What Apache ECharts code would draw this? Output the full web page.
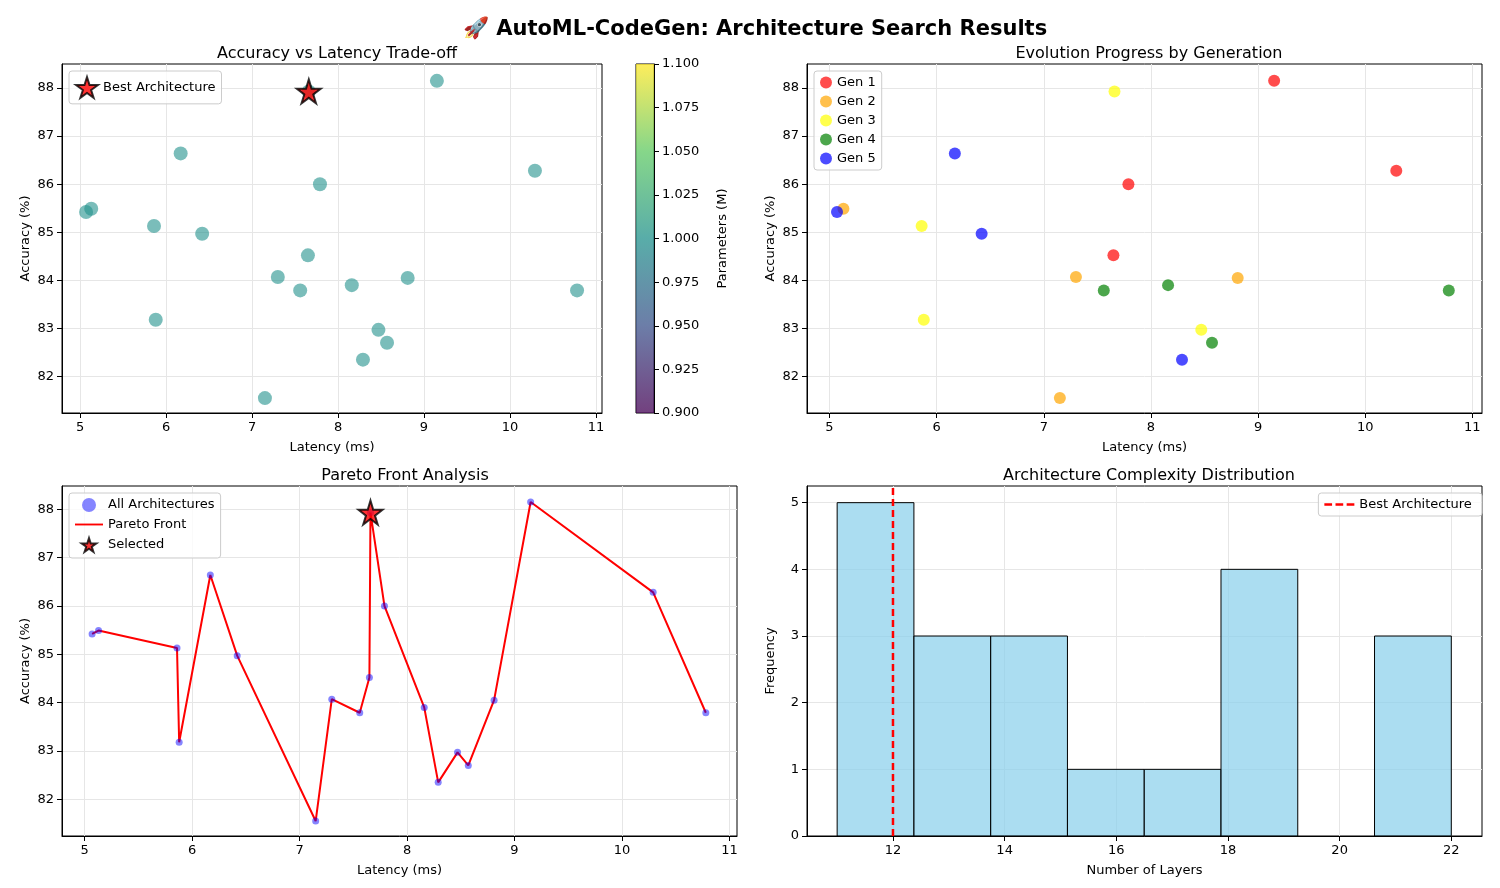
<!DOCTYPE html>
<html lang="en">
  <head>
    <meta charset="UTF-8" />
    <title>AutoML-CodeGen</title>
    <script src="https://cdn.jsdelivr.net/npm/echarts@6/dist/echarts.min.js"></script>
    <style>
      body { margin: 0; background: #fff; }
      #main { width: 1500px; height: 888px; }
    </style>
  </head>
  <body>
    <div id="main"></div>
    <script>
      // architectures: latency (ms), accuracy (%), generation
      var latency = [5.07, 5.13, 5.86, 5.88, 6.17, 6.42, 7.15, 7.30, 7.56, 7.65, 7.66, 7.79, 8.16, 8.29, 8.47, 8.57, 8.81, 9.15, 10.29, 10.78];
      var accuracy = [85.42, 85.49, 85.13, 83.18, 86.64, 84.97, 81.55, 84.07, 83.79, 84.52, 87.93, 86.0, 83.9, 82.35, 82.97, 82.7, 84.05, 88.15, 86.28, 83.79];
      var generation = [5, 2, 3, 3, 5, 5, 2, 2, 4, 1, 3, 1, 4, 5, 3, 4, 2, 1, 1, 4];
      var bestIndex = 10;
      var layerBins = [11, 12.375, 13.75, 15.125, 16.5, 17.875, 19.25, 20.625, 22];
      var layerCounts = [5, 3, 3, 1, 1, 4, 0, 3];
      var bestLayers = 12;
      var latencyTicks = [5, 6, 7, 8, 9, 10, 11];
      var accuracyTicks = [82, 83, 84, 85, 86, 87, 88];
      var layerTicks = [12, 14, 16, 18, 20, 22];
      var genColors = ["#ff0000", "#ffa500", "#ffff00", "#008000", "#0000ff"];

      var star = "path://M50,0 L61,35 L98,35 L68,57 L79,91 L50,70 L21,91 L32,57 L2,35 L39,35 Z";
      var lineIcon = "path://M0,4 L30,4 L30,6 L0,6 Z";
      var dashIcon = "path://M0,4 L9,4 L9,7 L0,7 Z M13,4 L22,4 L22,7 L13,7 Z M26,4 L35,4 L35,7 L26,7 Z";
      var font = "DejaVu Sans";
      var points = latency.map(function (x, i) { return [x, accuracy[i]]; });
      var best = [points[bestIndex]];

      var myChart = echarts.init(document.getElementById("main"));

      function axisBase(idx, min, max, ticks, name) {
        return {
          type: "value", gridIndex: idx, min: min, max: max,
          name: name, nameLocation: "middle",
          nameTextStyle: { color: "#000", fontSize: 13, fontFamily: font },
          axisLine: { show: true, onZero: false, lineStyle: { color: "#000" } },
          axisTick: { show: true, customValues: ticks, lineStyle: { color: "#000" } },
          axisLabel: { color: "#000", fontSize: 13, fontFamily: font, customValues: ticks },
          splitLine: { show: true, lineStyle: { color: "#e6e6e6" } },
        };
      }
      function xAx(idx, min, max, ticks, name) {
        var a = axisBase(idx, min, max, ticks, name);
        a.nameGap = 28;
        return a;
      }
      function yAx(idx, min, max, ticks, name) {
        var a = axisBase(idx, min, max, ticks, name);
        a.nameGap = 30;
        a.nameRotate = 90;
        return a;
      }
      function titleAt(text, cx, top) {
        return { text: text, left: cx, top: top, textAlign: "center",
          textStyle: { fontSize: 16, fontWeight: "normal", color: "#000", fontFamily: font } };
      }
      var legendBase = {
        orient: "vertical", backgroundColor: "rgba(255,255,255,0.8)", borderColor: "#ccc",
        borderWidth: 1, borderRadius: 3, padding: [5, 6], itemGap: 6,
        textStyle: { fontSize: 13, color: "#000", fontFamily: font },
      };
      var gridBox = { show: true, borderColor: "#000", borderWidth: 1, backgroundColor: "transparent" };

      var option = {
        backgroundColor: "#fff",
        animation: false,
        title: [
          { text: "🚀 AutoML-CodeGen: Architecture Search Results", left: 750, top: 14, textAlign: "center",
            textStyle: { fontSize: 21, fontWeight: "bold", color: "#000", fontFamily: font } },
          titleAt("Accuracy vs Latency Trade-off", 332, 41),
          titleAt("Evolution Progress by Generation", 1144, 41),
          titleAt("Pareto Front Analysis", 400, 463),
          titleAt("Architecture Complexity Distribution", 1144, 463),
        ],
        grid: [
          Object.assign({ left: 62, top: 64, width: 540, height: 349 }, gridBox),
          Object.assign({ left: 807, top: 64, width: 675, height: 349 }, gridBox),
          Object.assign({ left: 62, top: 486, width: 675, height: 350 }, gridBox),
          Object.assign({ left: 807, top: 486, width: 675, height: 350 }, gridBox),
          Object.assign({ left: 636, top: 64, width: 18, height: 349 }, gridBox),
        ],
        xAxis: [
          xAx(0, 4.79, 11.07, latencyTicks, "Latency (ms)"),
          xAx(1, 4.79, 11.09, latencyTicks, "Latency (ms)"),
          xAx(2, 4.79, 11.07, latencyTicks, "Latency (ms)"),
          xAx(3, 10.46, 22.55, layerTicks, "Number of Layers"),
          { type: "category", gridIndex: 4, data: ["c"], show: false },
        ],
        yAxis: [
          yAx(0, 81.24, 88.5, accuracyTicks, "Accuracy (%)"),
          yAx(1, 81.24, 88.5, accuracyTicks, "Accuracy (%)"),
          yAx(2, 81.24, 88.48, accuracyTicks, "Accuracy (%)"),
          yAx(3, 0, 5.25, [0, 1, 2, 3, 4, 5], "Frequency"),
          {
            type: "value", gridIndex: 4, min: 0.9, max: 1.1, interval: 0.025, position: "right",
            name: "Parameters (M)", nameLocation: "middle", nameGap: 62, nameRotate: 90,
            nameTextStyle: { color: "#000", fontSize: 13, fontFamily: font },
            axisLine: { show: true, lineStyle: { color: "#000" } },
            axisTick: { show: true, lineStyle: { color: "#000" } },
            axisLabel: { color: "#000", fontSize: 13, fontFamily: font,
              formatter: function (v) { return v.toFixed(3); } },
            splitLine: { show: false },
          },
        ],
        legend: [
          Object.assign({}, legendBase, { left: 69, top: 71, data: [{ name: "Best Architecture", icon: star }], itemWidth: 22, itemHeight: 22 }),
          Object.assign({}, legendBase, { left: 814, top: 71, itemWidth: 12, itemHeight: 12,
            data: ["Gen 1", "Gen 2", "Gen 3", "Gen 4", "Gen 5"] }),
          Object.assign({}, legendBase, { left: 69, top: 493, itemWidth: 28, itemHeight: 14,
            data: [{ name: "All Architectures", icon: "circle" }, { name: "Pareto Front", icon: lineIcon }, { name: "Selected", icon: star }] }),
          Object.assign({}, legendBase, { right: 18, top: 493, itemWidth: 30, itemHeight: 10,
            data: [{ name: "Best Architecture ", icon: dashIcon }] }),
        ],
        series: [],
      };

      // top-left: accuracy vs latency, all same parameter value (viridis middle)
      option.series.push({
        type: "scatter", xAxisIndex: 0, yAxisIndex: 0, data: points, symbolSize: 14,
        itemStyle: { color: "rgba(33,145,140,0.75)" },
      });
      option.series.push({
        name: "Best Architecture", type: "scatter", xAxisIndex: 0, yAxisIndex: 0, data: best,
        symbol: star, symbolSize: 24, itemStyle: { color: "#ff0000", borderColor: "#000", borderWidth: 2 }, z: 5,
      });
      // colorbar
      option.series.push({
        type: "bar", xAxisIndex: 4, yAxisIndex: 4, data: [1.1], barWidth: "100%", silent: true,
        itemStyle: { color: new echarts.graphic.LinearGradient(0, 1, 0, 0, [
          { offset: 0, color: "rgba(68,1,84,0.75)" },
          { offset: 0.25, color: "rgba(59,82,139,0.75)" },
          { offset: 0.5, color: "rgba(33,145,140,0.75)" },
          { offset: 0.75, color: "rgba(94,201,98,0.75)" },
          { offset: 1, color: "rgba(253,231,37,0.75)" },
        ]) },
      });

      // top-right: by generation
      for (var g = 1; g <= 5; g++) {
        option.series.push({
          name: "Gen " + g, type: "scatter", xAxisIndex: 1, yAxisIndex: 1, symbolSize: 12,
          itemStyle: { color: genColors[g - 1], opacity: 0.7 },
          data: points.filter(function (p, i) { return generation[i] === g; }),
        });
      }

      // bottom-left: pareto
      option.series.push({
        name: "All Architectures", type: "scatter", xAxisIndex: 2, yAxisIndex: 2, data: points, symbolSize: 7,
        itemStyle: { color: "rgba(0,0,255,0.6)" }, z: 3,
      });
      option.series.push({
        name: "Pareto Front", type: "line", xAxisIndex: 2, yAxisIndex: 2, data: points, showSymbol: false,
        symbol: "none", lineStyle: { color: "#ff0000", width: 2 }, itemStyle: { color: "#ff0000" }, z: 2,
      });
      option.series.push({
        name: "Selected", type: "scatter", xAxisIndex: 2, yAxisIndex: 2, data: best, symbol: star, symbolSize: 24,
        itemStyle: { color: "#ff0000", borderColor: "#000", borderWidth: 2 }, z: 5,
      });

      // bottom-right: histogram
      var histData = layerCounts.map(function (c, i) { return [layerBins[i], layerBins[i + 1], c]; });
      option.series.push({
        type: "custom", xAxisIndex: 3, yAxisIndex: 3, data: histData,
        renderItem: function (params, api) {
          if (!api.value(2)) return null;
          var p0 = api.coord([api.value(0), api.value(2)]);
          var p1 = api.coord([api.value(1), 0]);
          return { type: "rect", shape: { x: p0[0], y: p0[1], width: p1[0] - p0[0], height: p1[1] - p0[1] },
            style: { fill: "rgba(135,206,235,0.7)", stroke: "#000", lineWidth: 1 } };
        },
      });
      option.series.push({
        name: "Best Architecture ", type: "line", xAxisIndex: 3, yAxisIndex: 3,
        data: [[bestLayers, 0], [bestLayers, 5.25]], symbol: "none",
        lineStyle: { color: "#ff0000", width: 2.5, type: [7, 4] }, itemStyle: { color: "#ff0000" }, z: 5,
      });

      myChart.setOption(option);
    </script>
  </body>
</html>
